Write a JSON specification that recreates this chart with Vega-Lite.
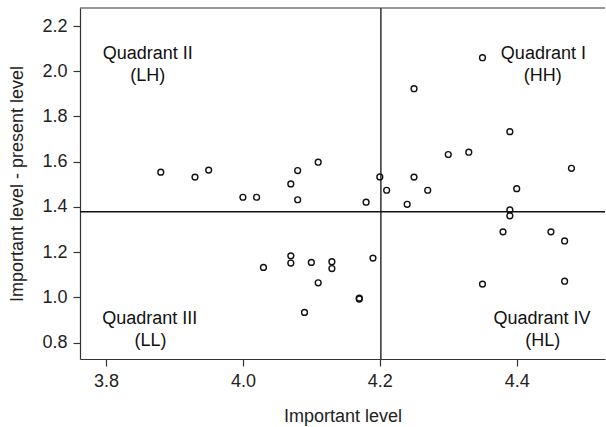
{
  "$schema": "https://vega.github.io/schema/vega-lite/v6.json",
  "width": 525,
  "height": 351,
  "autosize": {"type": "none"},
  "padding": {"left": 80, "top": 8, "right": 1, "bottom": 68},
  "background": "white",
  "config": {
    "view": {"stroke": null},
    "font": "Liberation Sans",
    "axis": {
      "grid": false,
      "domainColor": "#333333",
      "domainWidth": 1.2,
      "tickColor": "#333333",
      "tickWidth": 1.2,
      "tickSize": 7,
      "labelFont": "Liberation Sans",
      "labelFontSize": 18,
      "labelColor": "#222222",
      "titleFont": "Liberation Sans",
      "titleFontSize": 18,
      "titleFontWeight": "normal",
      "titleColor": "#222222"
    }
  },
  "layer": [
    {
      "data": {"values": [
        {"imp": 3.88, "gap": 1.554},
        {"imp": 3.93, "gap": 1.532},
        {"imp": 3.95, "gap": 1.563},
        {"imp": 4.00, "gap": 1.443},
        {"imp": 4.02, "gap": 1.443},
        {"imp": 4.07, "gap": 1.502},
        {"imp": 4.08, "gap": 1.561},
        {"imp": 4.11, "gap": 1.598},
        {"imp": 4.08, "gap": 1.432},
        {"imp": 4.20, "gap": 1.533},
        {"imp": 4.21, "gap": 1.474},
        {"imp": 4.18, "gap": 1.421},
        {"imp": 4.35, "gap": 2.06},
        {"imp": 4.25, "gap": 1.923},
        {"imp": 4.39, "gap": 1.733},
        {"imp": 4.30, "gap": 1.632},
        {"imp": 4.33, "gap": 1.642},
        {"imp": 4.48, "gap": 1.571},
        {"imp": 4.25, "gap": 1.532},
        {"imp": 4.27, "gap": 1.474},
        {"imp": 4.40, "gap": 1.481},
        {"imp": 4.24, "gap": 1.412},
        {"imp": 4.39, "gap": 1.387},
        {"imp": 4.39, "gap": 1.361},
        {"imp": 4.38, "gap": 1.29},
        {"imp": 4.45, "gap": 1.29},
        {"imp": 4.47, "gap": 1.25},
        {"imp": 4.35, "gap": 1.059},
        {"imp": 4.47, "gap": 1.072},
        {"imp": 4.19, "gap": 1.174},
        {"imp": 4.03, "gap": 1.133},
        {"imp": 4.07, "gap": 1.184},
        {"imp": 4.07, "gap": 1.152},
        {"imp": 4.10, "gap": 1.155},
        {"imp": 4.13, "gap": 1.158},
        {"imp": 4.13, "gap": 1.128},
        {"imp": 4.11, "gap": 1.065},
        {"imp": 4.17, "gap": 0.997},
        {"imp": 4.17, "gap": 0.993},
        {"imp": 4.09, "gap": 0.934}
      ]},
      "mark": {"type": "point", "shape": "circle", "filled": false, "color": "#111111", "size": 34, "strokeWidth": 1.4, "opacity": 1},
      "encoding": {
        "x": {"field": "imp", "type": "quantitative", "title": "Important level",
          "scale": {"domain": [3.762, 4.529], "nice": false, "zero": false},
          "axis": {"values": [3.8, 4.0, 4.2, 4.4], "format": ".1f", "labelPadding": 6, "titlePadding": 17}},
        "y": {"field": "gap", "type": "quantitative", "title": "Important level - present level",
          "scale": {"domain": [0.728, 2.2796], "nice": false, "zero": false},
          "axis": {"values": [0.8, 1.0, 1.2, 1.4, 1.6, 1.8, 2.0, 2.2], "format": ".1f", "labelPadding": 6, "titlePadding": 15}}
      }
    },
    {
      "data": {"values": [{"v": 4.2016}]},
      "mark": {"type": "rule", "color": "#111111", "strokeWidth": 1.3},
      "encoding": {"x": {"field": "v", "type": "quantitative"}}
    },
    {
      "data": {"values": [{"h": 1.379}]},
      "mark": {"type": "rule", "color": "#111111", "strokeWidth": 1.3},
      "encoding": {"y": {"field": "h", "type": "quantitative"}}
    },
    {
      "data": {"values": [{"t": 0}]},
      "mark": {"type": "rule", "color": "#333333", "strokeWidth": 1.2},
      "encoding": {"y": {"datum": 2.2796, "type": "quantitative"}}
    },
    {
      "data": {"values": [
        {"tx": 3.861, "ty": 2.076, "label": "Quadrant II"},
        {"tx": 3.861, "ty": 1.979, "label": "(LH)"},
        {"tx": 4.439, "ty": 2.076, "label": "Quadrant I"},
        {"tx": 4.438, "ty": 1.979, "label": "(HH)"},
        {"tx": 3.864, "ty": 0.903, "label": "Quadrant III"},
        {"tx": 3.865, "ty": 0.807, "label": "(LL)"},
        {"tx": 4.437, "ty": 0.903, "label": "Quadrant IV"},
        {"tx": 4.438, "ty": 0.807, "label": "(HL)"}
      ]},
      "mark": {"type": "text", "font": "Liberation Sans", "fontSize": 18, "color": "#111111", "align": "center", "baseline": "middle"},
      "encoding": {
        "x": {"field": "tx", "type": "quantitative"},
        "y": {"field": "ty", "type": "quantitative"},
        "text": {"field": "label", "type": "nominal"}
      }
    }
  ]
}
